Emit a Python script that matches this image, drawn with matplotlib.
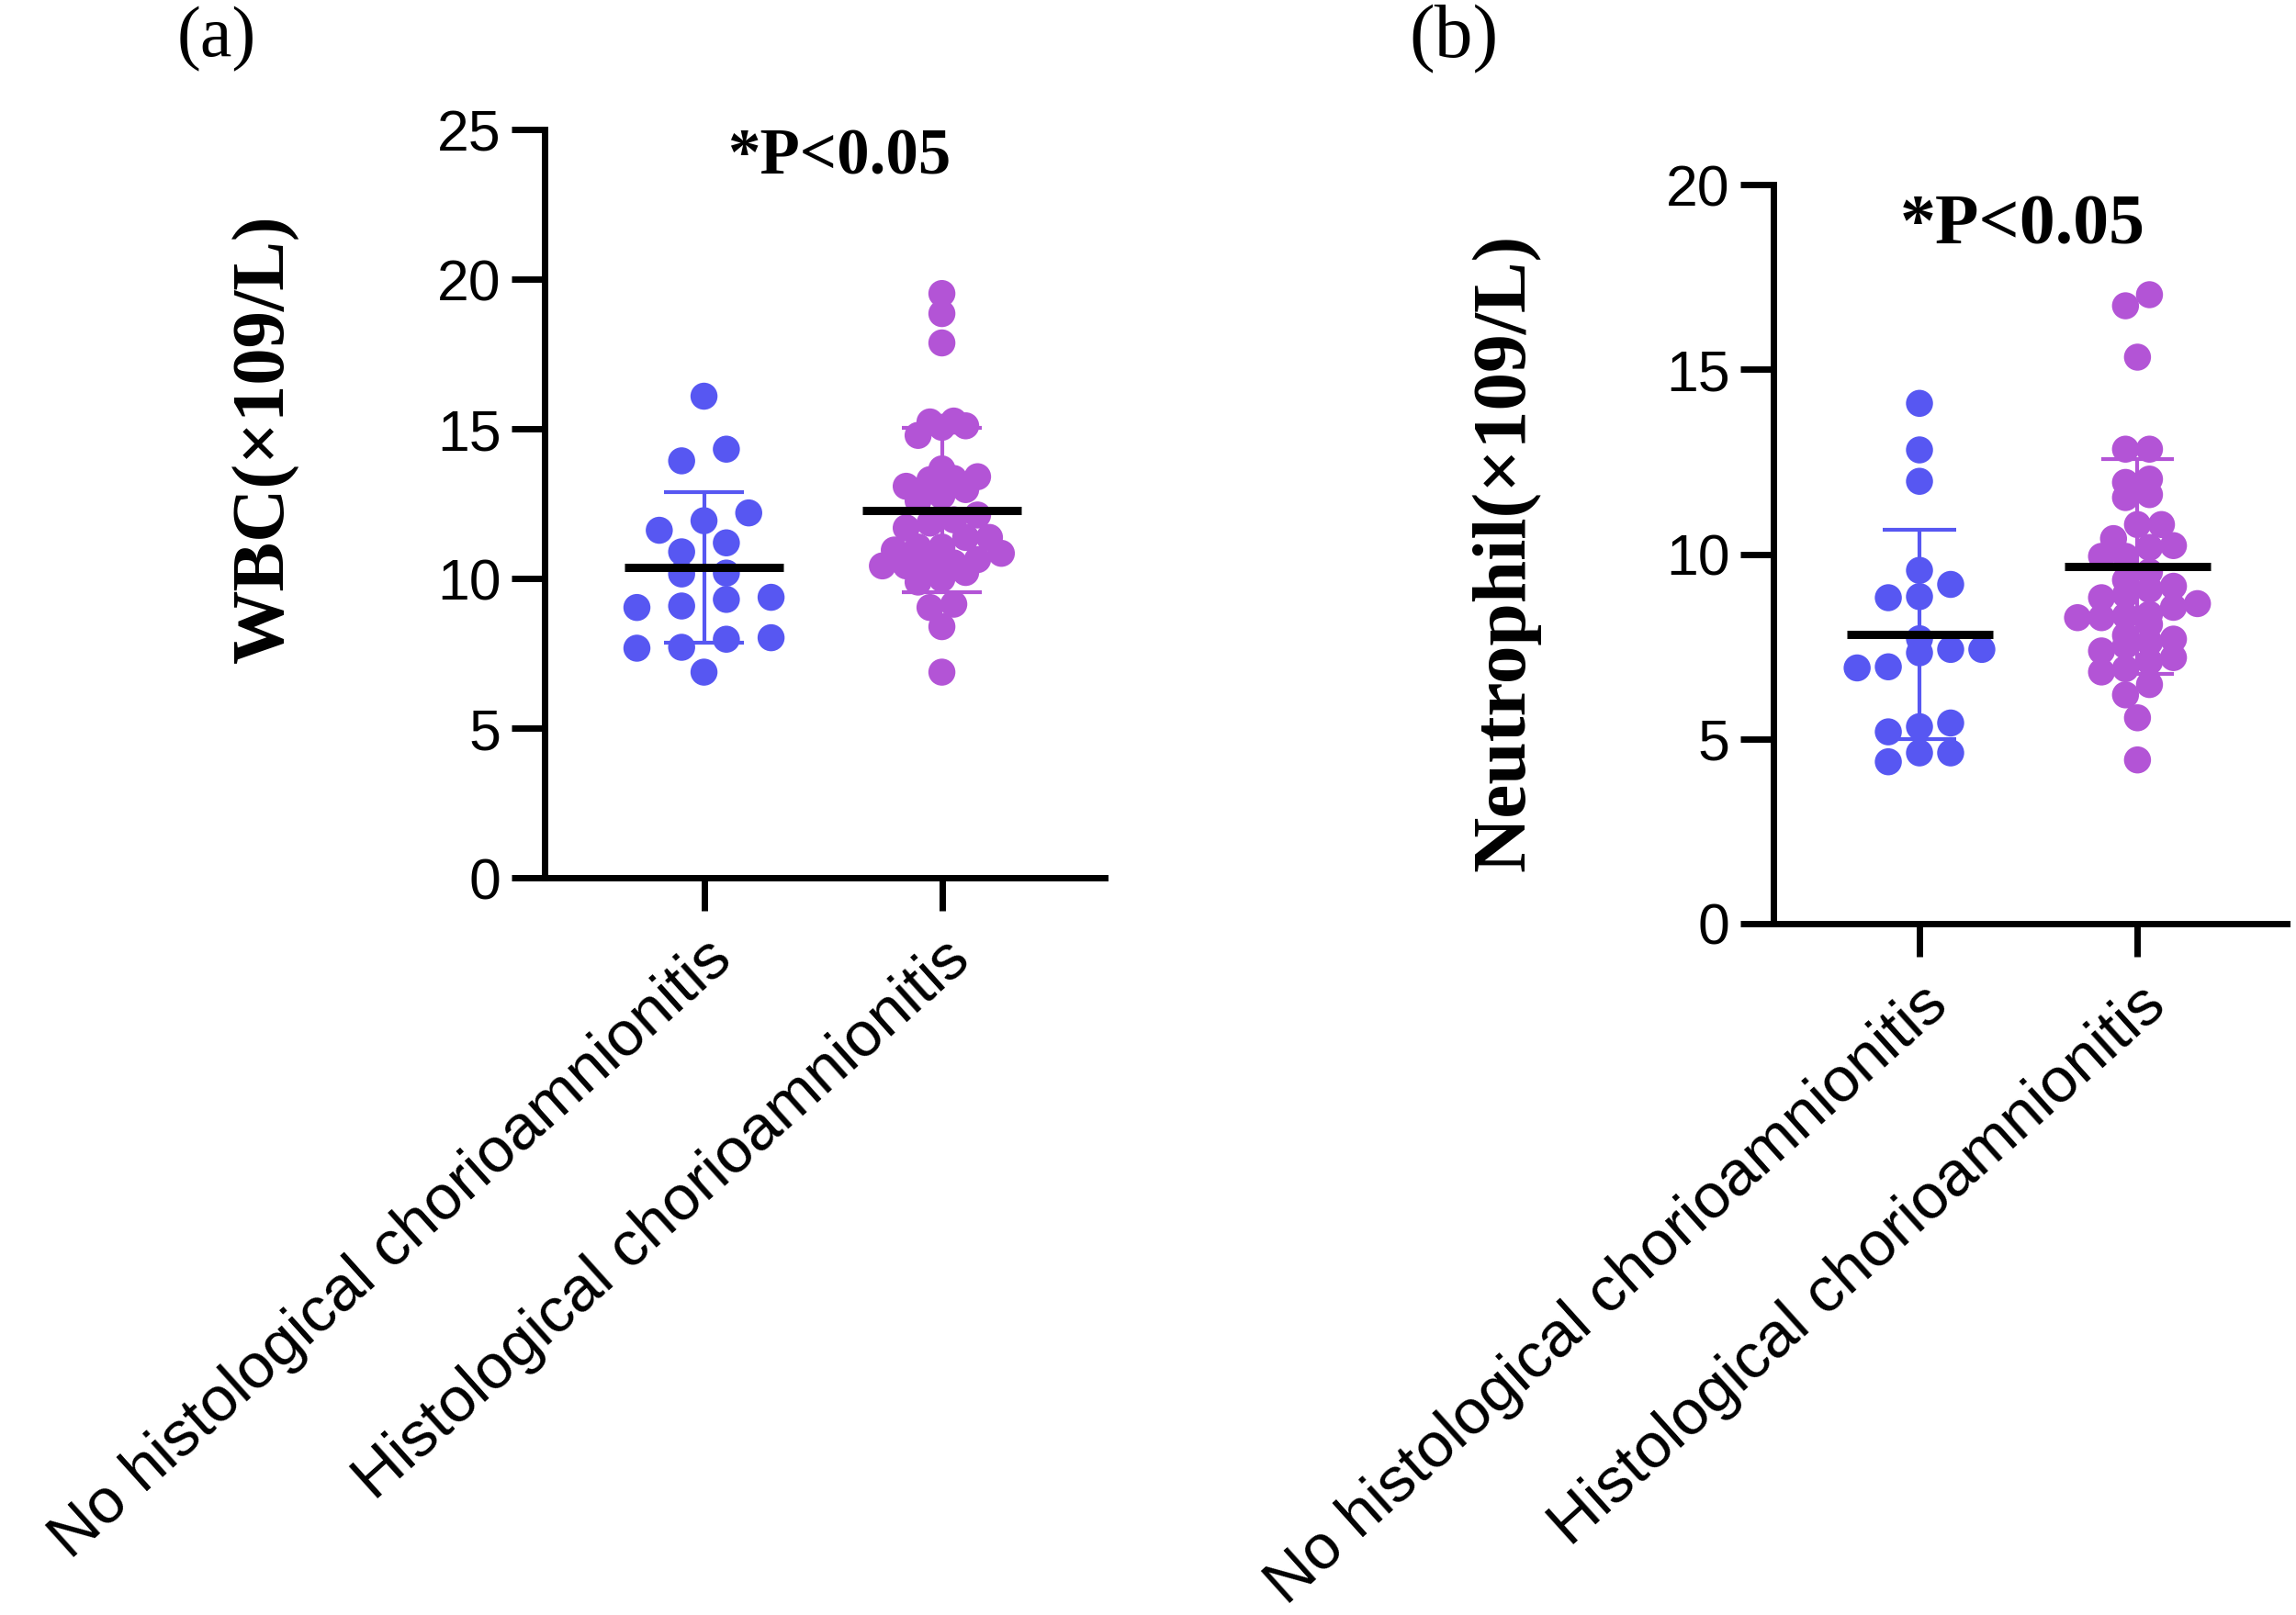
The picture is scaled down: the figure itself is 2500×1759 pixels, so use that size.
import numpy as np
import matplotlib.pyplot as plt

# group names on the x axis
groups = ["No histological chorioamnionitis", "Histological chorioamnionitis"]

# (a) WBC, x10^9/L
wbc_no = [16.09, 14.32, 13.93, 12.19, 11.93, 11.61, 11.19, 10.89, 10.15, 10.18,
          9.08, 9.30, 9.03, 9.37, 7.67, 8.02, 7.70, 7.97, 6.87]
wbc_hca = [19.52, 18.85, 17.87, 15.26, 15.10, 15.05, 14.78, 15.23, 13.40, 13.08,
           13.66, 13.34, 13.30, 12.60, 12.76, 12.97, 11.96, 12.12, 11.69, 11.85,
           11.05, 11.05, 11.37, 11.37, 10.95, 10.84, 10.52, 10.42, 10.20, 10.52,
           10.42, 10.63, 9.99, 9.88, 9.03, 9.14, 8.39, 6.87]
wbc_mean = [10.36, 12.28]
wbc_sd = [2.52, 2.75]

# (b) Neutrophil, x10^9/L
neu_no = [14.08, 12.82, 11.97, 9.56, 9.18, 8.82, 8.85, 7.71, 7.42, 7.33,
          7.42, 6.92, 6.95, 5.43, 5.33, 5.19, 4.62, 4.62, 4.38]
neu_hca = [17.02, 16.72, 15.33, 12.84, 12.84, 12.03, 11.94, 11.61, 11.53, 10.80,
           10.80, 10.42, 10.18, 10.23, 9.94, 9.94, 9.52, 9.04, 9.13, 8.82,
           8.66, 8.33, 8.28, 8.56, 8.28, 8.37, 7.80, 7.52, 7.38, 7.61,
           7.09, 6.81, 6.47, 6.19, 5.57, 4.43, 8.10, 7.70, 8.90, 9.30, 6.90, 7.20]
neu_mean = [7.83, 9.66]
neu_sd = [2.83, 2.90]

blue = '#5757F2'
purple = '#B354D6'

SANS = 'Liberation Sans'
SERIF = 'Liberation Serif'


def swarm_offsets(values, row_h, step):
    """Spread values that fall in the same row side by side (like a Prism dot plot)."""
    values = np.asarray(values, dtype=float)
    order = np.argsort(values)
    vals = values[order]
    offs = np.zeros(len(vals))
    start = 0
    for i in range(1, len(vals) + 1):
        if i == len(vals) or vals[i] - vals[start] > row_h:
            n = i - start
            offs[start:i] = (np.arange(n) - (n - 1) / 2) * step
            start = i
    out = np.zeros(len(vals))
    out[order] = offs
    return out


def draw_panel(ax, data, means, sds, ymax, steps, rows):
    colors = [blue, purple]
    for i, vals in enumerate(data):
        xc = i + 1
        col = colors[i]
        lo, hi = means[i] - sds[i], means[i] + sds[i]
        # error bar (SD), behind the dots
        ax.vlines(xc, lo, hi, color=col, lw=3, zorder=1)
        ax.hlines([lo, hi], xc - 0.167, xc + 0.167, color=col, lw=3, zorder=1)
        x = xc + swarm_offsets(vals, rows[i], steps[i])
        ax.scatter(x, vals, s=450, color=col, edgecolors='none', zorder=2)
        ax.hlines(means[i], xc - 0.335, xc + 0.335, color='black', lw=6.5, zorder=3)

    ax.set_xlim(0.33, 2.685)
    ax.set_ylim(0, ymax)
    ax.set_yticks(np.arange(0, ymax + 1, 5))
    ax.set_xticks([1, 2])
    ax.set_xticklabels(groups, rotation=42, ha='right', va='top',
                       rotation_mode='anchor', fontsize=50, family=SANS)
    for lab in ax.get_yticklabels():
        lab.set_family(SANS)
        lab.set_fontsize(45)
    for s in ['top', 'right']:
        ax.spines[s].set_visible(False)
    for s in ['left', 'bottom']:
        ax.spines[s].set_linewidth(5)
        ax.spines[s].set_capstyle('projecting')
    ax.tick_params(axis='both', direction='out', length=26, width=5, color='black')
    ax.tick_params(axis='y', pad=8)
    ax.tick_params(axis='x', pad=14)


fig = plt.figure(figsize=(25, 17.59), dpi=100)

ax_a = fig.add_axes([0.2372, 0.4565, 0.244, 0.4633])
draw_panel(ax_a, [wbc_no, wbc_hca], wbc_mean, wbc_sd, 25,
           steps=[0.188, 0.1], rows=[0.6, 0.45])

ax_b = fig.add_axes([0.7724, 0.4281, 0.2236, 0.4576])
draw_panel(ax_b, [neu_no, neu_hca], neu_mean, neu_sd, 20,
           steps=[0.143, 0.11], rows=[0.5, 0.4])

# panel letters
fig.text(236 / 2500, 1 - 43 / 1759, '(a)', family=SERIF, fontsize=56,
         ha='center', va='center')
fig.text(1583 / 2500, 1 - 43 / 1759, '(b)', family=SERIF, fontsize=60,
         ha='center', va='center')

# y labels
fig.text(289 / 2500, 1 - 478 / 1759, 'WBC(×109/L)', family=SERIF, weight='bold',
         fontsize=58, rotation=90, ha='center', va='center')
fig.text(1640 / 2500, 1 - 602 / 1759, 'Neutrophil(×109/L)', family=SERIF,
         weight='bold', fontsize=60, rotation=90, ha='center', va='center')

# significance notes
fig.text(914 / 2500, 1 - 172 / 1759, '*P<0.05', family=SERIF, weight='bold',
         fontsize=51, ha='center', va='center')
fig.text(2202 / 2500, 1 - 247 / 1759, '*P<0.05', family=SERIF, weight='bold',
         fontsize=56, ha='center', va='center')

fig.savefig('out.png', dpi=100)
